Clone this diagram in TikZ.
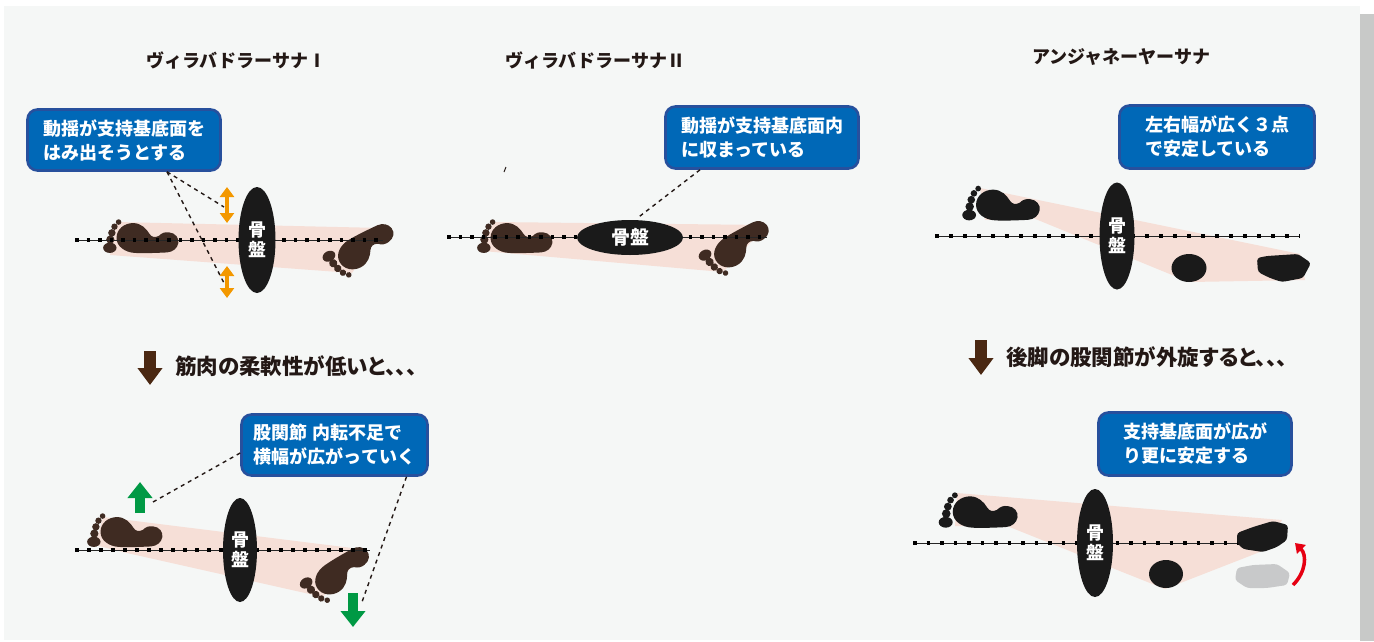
\documentclass[tikz,border=0pt]{standalone}
\usepackage{fontspec}
\usetikzlibrary{shapes.geometric,arrows.meta}
\newfontfamily\jp{Noto Sans CJK JP}
\newfontfamily\jpp{Noto Sans CJK JP}[RawFeature=+palt]
\definecolor{panelc}{HTML}{F5F7F6}
\definecolor{shadowc}{HTML}{C8C9C8}
\definecolor{pinkc}{HTML}{F6DFD7}
\definecolor{brownc}{HTML}{3F2B22}
\definecolor{pelvisc}{HTML}{1A1A1A}
\definecolor{cfill}{HTML}{0068B7}
\definecolor{cborder}{HTML}{27509D}
\definecolor{orangec}{HTML}{F39800}
\definecolor{greenc}{HTML}{009944}
\definecolor{redc}{HTML}{E60012}
\definecolor{arrowbrown}{HTML}{4A2812}
\definecolor{textc}{HTML}{231815}
\definecolor{ghostc}{HTML}{C8C9CA}

\tikzset{
  callout/.style={draw=cborder, fill=cfill, line width=2.6pt, rounded corners=10pt,
    text=white, font=\jp\bfseries\fontsize{18}{24}\selectfont, align=left, inner sep=0pt},
  pelvis/.style={ellipse, fill=pelvisc, inner sep=0pt, text=white, align=center,
    font=\jp\bfseries\fontsize{18}{20}\selectfont},
  titletext/.style={text=textc, font=\jp\bfseries\fontsize{18}{20}\selectfont, inner sep=0pt},
  subtext/.style={text=textc, font=\jpp\bfseries\fontsize{21.5}{24}\selectfont, inner sep=0pt, anchor=west},
  leader/.style={draw=textc, line width=1.4pt, dash pattern=on 4pt off 4pt},
  axthin/.style={draw=black!85, line width=0.9pt},
  axdots/.style={draw=black, line width=3.5pt, dash pattern=on 3.5pt off #1},
  pinkarea/.style={fill=pinkc},
  orangearr/.style={draw=orangec, line width=4pt, {Triangle[width=14pt,length=10pt]}-{Triangle[width=14pt,length=10pt]}},
  greenarr/.style={draw=greenc, line width=10pt, -{Triangle[width=24pt,length=16pt]}},
  brownarr/.style={draw=arrowbrown, line width=12pt, -{Triangle[width=24pt,length=17pt]}},
}

% footprint: ball centre (#1,#2), rotation #3, mirror #4 (1 or -1), scale #5, colour #6
\newcommand\footprint[6]{%
  \begin{scope}[shift={(#1,#2)}, rotate=#3, yscale=#4, scale=#5]
    \fill[#6] (-16,0) .. controls (-16,-9) and (-8,-14.5) .. (0,-14.5)
      .. controls (8,-14.5) and (13,-9) .. (16,-4)
      .. controls (18,-1) and (21,0) .. (25,-2)
      .. controls (28,-5) and (31,-6) .. (35,-5.5)
      .. controls (41,-5) and (45,0) .. (44,5)
      .. controls (43,10) and (39,13.5) .. (33,14)
      .. controls (22,14.5) and (10,15) .. (2,14.5)
      .. controls (-8,14) and (-16,8) .. (-16,0) -- cycle;
    \fill[#6] (-22.5,9.5) ellipse [x radius=6.5pt, y radius=5pt];
    \fill[#6] (-22,1.5) circle [radius=4pt];
    \fill[#6] (-20.5,-5) circle [radius=3.6pt];
    \fill[#6] (-18,-11) circle [radius=3.1pt];
    \fill[#6] (-14,-15.5) circle [radius=2.7pt];
  \end{scope}}

\begin{document}
\begin{tikzpicture}[x=1pt,y=-1pt]
\useasboundingbox (0,0) rectangle (1374,641);
\fill[white] (0,0) rectangle (1374,641);
\fill[shadowc] (1360,14) rectangle (1374,641);
\fill[panelc] (4,6) rectangle (1360,639.5);

% titles
\node[titletext] (t1) at (236,60) {ヴィラバドラーサナⅠ};
\node[titletext] (t2) at (595,60) {ヴィラバドラーサナⅡ};
\node[titletext] (t3) at (1121,57) {アンジャネーヤーサナ};

% ---------- Virabhadrasana I ----------
\fill[pinkarea] (117,222) -- (382,228) -- (352,273) -- (110,255) -- cycle;
\footprint{133}{238}{0}{1}{1.03}{brownc}
\footprint{354}{254}{28}{-1}{1.03}{brownc}
\coordinate (a1s) at (75,240); \coordinate (a1e) at (383,240);
\draw[axthin] (a1s) -- (a1e);
\draw[axdots=8pt] (a1s) -- (a1e);
\node[pelvis, minimum width=37pt, minimum height=106pt] (p1) at (257,240) {骨\\盤};
\node[callout, minimum width=193pt, minimum height=61pt] (box1) at (124,140)
  {動揺が支持基底面を\\はみ出そうとする};
\coordinate (o1) at (224,207);
\coordinate (o2) at (224,283);
\draw[leader] ([xshift=43pt]box1.south) -- (o1);
\draw[leader] ([xshift=43pt]box1.south) -- (o2);
\coordinate (oa1) at (227,187); \coordinate (oa2) at (227,223);
\coordinate (ob1) at (227,266); \coordinate (ob2) at (227,298);
\draw[orangearr] (oa1) -- (oa2);
\draw[orangearr] (ob1) -- (ob2);

% ---------- Virabhadrasana II ----------
\fill[pinkarea] (493,222) -- (767,225) -- (723,272) -- (483,251) -- cycle;
\footprint{507}{238}{0}{1}{1.03}{brownc}
\footprint{730}{252}{30}{-1}{1.03}{brownc}
\coordinate (a2s) at (447,237); \coordinate (a2e) at (767,237);
\draw[axthin] (a2s) -- (a2e);
\draw[axdots=8pt] (a2s) -- (a2e);
\node[pelvis, minimum width=106pt, minimum height=35pt, font=\jp\bfseries\fontsize{19}{20}\selectfont] (p2) at (630,237.5) {骨盤};
\node[callout, minimum width=193pt, minimum height=62pt] (box2) at (762,137.5)
  {動揺が支持基底面内\\に収まっている};
\draw[leader] ([xshift=-62pt]box2.south) -- ([xshift=9pt,yshift=3pt]p2.north);
\coordinate (m1) at (504,172); \coordinate (m2) at (506,167);
\draw[textc, line width=1pt] (m1) -- (m2);

% ---------- Anjaneyasana ----------
\fill[pinkarea] (980,188) -- (1300,254) -- (1305,280) -- (1190,282) -- (1177,277) -- (1033,218) -- (985,220) -- cycle;
\footprint{993}{205}{0}{1}{1.06}{pelvisc}
\fill[pelvisc] (1189,268) ellipse [x radius=17.5pt, y radius=14pt];
\fill[pelvisc, rounded corners=3pt] (1257,258) -- (1267,256) -- (1298,254) -- (1311,263)
  -- (1303,278) -- (1282,282) -- (1270,278) -- (1258,272) -- cycle;
\coordinate (a3s) at (935,236); \coordinate (a3e) at (1300,236);
\draw[axthin] (a3s) -- (a3e);
\draw[axdots=10.5pt] (a3s) -- (a3e);
\node[pelvis, minimum width=35pt, minimum height=107pt] (p3) at (1117,236) {骨\\盤};
\node[callout, minimum width=195pt, minimum height=63pt] (box3) at (1217,137)
  {左右幅が広く３点\\で安定している};

% ---------- muscle flexibility ----------
\coordinate (ba1) at (150,351); \coordinate (ba2) at (150,385);
\draw[brownarr] (ba1) -- (ba2);
\node[subtext] (s1) at (175,366) {筋肉の柔軟性が低いと、、、};

\fill[pinkarea] (103,517) -- (368,550) -- (323,597) -- (127,553) -- (95,545) -- cycle;
\footprint{117}{532}{0}{1}{1.03}{brownc}
\footprint{331}{579}{32}{-1}{1.03}{brownc}
\coordinate (a4s) at (75,550); \coordinate (a4e) at (370,550);
\draw[axthin] (a4s) -- (a4e);
\draw[axdots=8.5pt] (a4s) -- (a4e);
\node[pelvis, minimum width=34pt, minimum height=104pt] (p4) at (240,550) {骨\\盤};
\node[callout, minimum width=186pt, minimum height=61pt] (box4) at (334.5,445)
  {股関節 内転不足で\\横幅が広がっていく};
\coordinate (g1s) at (140,513); \coordinate (g1e) at (140,482);
\coordinate (g2s) at (353,593); \coordinate (g2e) at (353,627);
\draw[greenarr] (g1s) -- (g1e);
\draw[greenarr] (g2s) -- (g2e);
\coordinate (l4a) at (153,502);
\coordinate (l4b) at (362,602);
\draw[leader] ([yshift=-8pt]box4.west) -- (l4a);
\draw[leader] ([xshift=72pt]box4.south) -- (l4b);

% ---------- external rotation ----------
\coordinate (bb1) at (981,340); \coordinate (bb2) at (981,375);
\draw[brownarr] (bb1) -- (bb2);
\node[subtext] (s2) at (1006,357) {後脚の股関節が外旋すると、、、};

\fill[pinkarea] (957,493) -- (1282,520) -- (1265,550) -- (1165,589) -- (1007,526) -- (955,526) -- cycle;
\footprint{970}{512}{0}{1}{1.08}{pelvisc}
\fill[pelvisc] (1166,574) ellipse [x radius=17pt, y radius=14pt];
\fill[ghostc, rounded corners=3pt] (1237,568) -- (1253,565) -- (1277,564) -- (1290,573)
  -- (1287,585) -- (1267,588) -- (1247,588) -- (1235,580) -- cycle;
\coordinate (a5s) at (913,543); \coordinate (a5e) at (1240,543);
\draw[axthin] (a5s) -- (a5e);
\draw[axdots=10pt] (a5s) -- (a5e);
\fill[pelvisc, rounded corners=3pt] (1237,533) -- (1253,527) -- (1273,521) -- (1288,525)
  -- (1287,540) -- (1277,547) -- (1263,552) -- (1243,549) -- (1237,543) -- cycle;
\node[pelvis, minimum width=36pt, minimum height=108pt] (p5) at (1095,543) {骨\\盤};
\node[callout, minimum width=193pt, minimum height=63pt] (box5) at (1195,444)
  {支持基底面が広が\\り更に安定する};
\coordinate (r1) at (1293,585); \coordinate (r2) at (1295,543);
\draw[redc, line width=3.5pt, -{Triangle[width=12pt,length=9pt]}] (r1) .. controls (1306,572) and (1307,555) .. (r2);
\end{tikzpicture}
\end{document}
